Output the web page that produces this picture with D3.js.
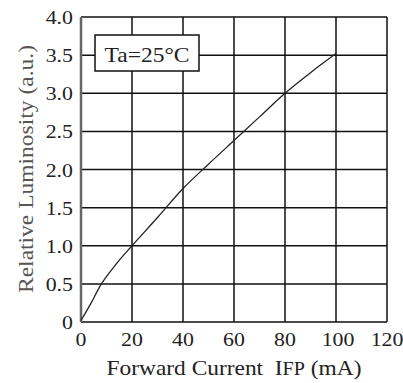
<!DOCTYPE html>
<html lang="en">
<head>
<meta charset="utf-8">
<title>Relative Luminosity vs Forward Current</title>
<script src="https://d3js.org/d3.v7.min.js"></script>
<style>
  body { margin: 0; background: #fff; }
</style>
</head>
<body>
<div id="chart"></div>
<script>
// values
const currentMA = [0, 4, 8, 14, 20, 30, 40, 50, 60, 70, 80, 90, 100];
const luminosity = [0.02, 0.25, 0.5, 0.77, 1.0, 1.37, 1.75, 2.07, 2.38, 2.69, 3.0, 3.27, 3.52];
const xTicks = [0, 20, 40, 60, 80, 100, 120];
const yTicks = [0, 0.5, 1.0, 1.5, 2.0, 2.5, 3.0, 3.5, 4.0];

const W = 403, H = 383;
const margin = {top: 17, right: 16, bottom: 61, left: 81};
const serif = "'Liberation Serif', 'Times New Roman', serif";
const stretch = 1.15; // the scanned labels are a little wider than Times

const svg = d3.select("#chart").append("svg")
  .attr("width", W).attr("height", H)
  .attr("font-family", serif);

const x = d3.scaleLinear().domain([0, 120]).range([margin.left, W - margin.right]);
const y = d3.scaleLinear().domain([0, 4]).range([H - margin.bottom, margin.top]);

// grid
svg.append("g").selectAll("line").data(xTicks).join("line")
  .attr("x1", d => x(d)).attr("x2", d => x(d))
  .attr("y1", y(0)).attr("y2", y(4))
  .attr("stroke", "#111").attr("stroke-width", 1.5);
svg.append("g").selectAll("line").data(yTicks).join("line")
  .attr("x1", x(0)).attr("x2", x(120))
  .attr("y1", d => y(d)).attr("y2", d => y(d))
  .attr("stroke", "#111").attr("stroke-width", 1.5);
// left axis looks heavier/greyer
svg.append("line")
  .attr("x1", x(0)).attr("x2", x(0)).attr("y1", y(0)).attr("y2", y(4))
  .attr("stroke", "#666").attr("stroke-width", 2.5);

// tick labels
const fmt = d => d === 0 ? "0" : d3.format(".1f")(d);
svg.append("g").selectAll("text").data(yTicks).join("text")
  .attr("transform", d => `translate(${x(0) - 8},${y(d) + 7}) scale(${stretch},1)`)
  .attr("text-anchor", "end").attr("font-size", 19).attr("fill", "#222")
  .text(fmt);
svg.append("g").selectAll("text").data(xTicks).join("text")
  .attr("transform", d => `translate(${x(d) + (d === 100 ? 2 : 0)},${y(0) + 24}) scale(${stretch},1)`)
  .attr("text-anchor", "middle").attr("font-size", 19).attr("fill", "#222")
  .text(d => d);

// curve
svg.append("path")
  .datum(currentMA.map((c, i) => [c, luminosity[i]]))
  .attr("fill", "none").attr("stroke", "#222").attr("stroke-width", 1.3)
  .attr("d", d3.line().x(d => x(d[0])).y(d => y(d[1])).curve(d3.curveCatmullRom.alpha(0.5)));

// legend box
const bx = 95, by = 35;
svg.append("rect").attr("x", bx).attr("y", by).attr("width", 104).attr("height", 36)
  .attr("fill", "#fff").attr("stroke", "#111").attr("stroke-width", 1.5);
svg.append("text").attr("x", bx + 52).attr("y", by + 27)
  .attr("text-anchor", "middle").attr("font-size", 22).attr("fill", "#222")
  .attr("textLength", 85).attr("lengthAdjust", "spacingAndGlyphs")
  .text("Ta=25°C");

// axis titles
const xt = svg.append("text").attr("x", 234).attr("y", 375)
  .attr("text-anchor", "middle").attr("font-size", 21).attr("fill", "#222")
  .attr("textLength", 255).attr("lengthAdjust", "spacingAndGlyphs");
xt.append("tspan").text("Forward Current\u00a0\u00a0I");
xt.append("tspan").attr("font-size", 18).text("FP");
xt.append("tspan").text(" (mA)");

svg.append("text")
  .attr("transform", "translate(33,169) rotate(-90)")
  .attr("text-anchor", "middle").attr("font-size", 21)
  .attr("textLength", 248).attr("lengthAdjust", "spacingAndGlyphs")
  .attr("fill", "#555")
  .text("Relative Luminosity (a.u.)");
</script>
</body>
</html>
